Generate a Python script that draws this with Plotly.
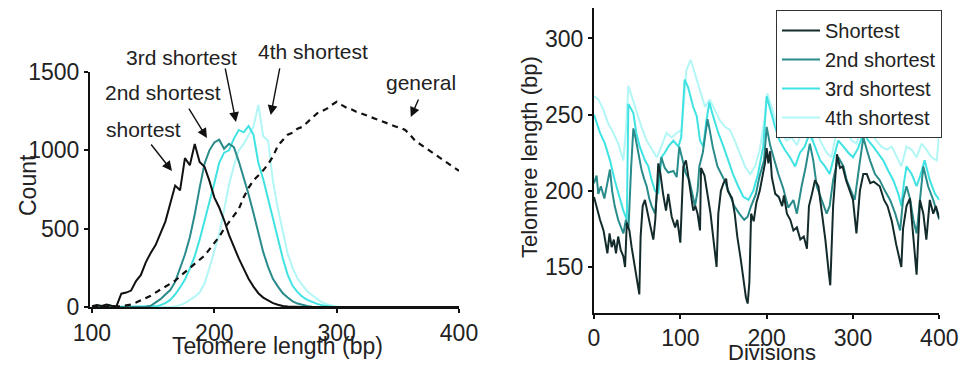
import plotly.graph_objects as go

# ---------------- Left panel: histograms ----------------
bin_length = list(range(100, 404, 4))  # bin centres (bp)

count_shortest = [5, 12, 6, 15, 8, 4, 85, 92, 105, 165,
                  205, 285, 345, 395, 470, 545, 660, 775, 745, 950,
                  905, 1040, 925, 895, 805, 700, 635, 555, 460, 380,
                  310, 245, 180, 130, 88, 60, 40, 25, 14, 6,
                  3, 1, 0, 0, 0, 0, 0, 0, 0, 0,
                  0, 0, 0, 0, 0, 0, 0, 0, 0, 0,
                  0, 0, 0, 0, 0, 0, 0, 0, 0, 0,
                  0, 0, 0, 0, 0, 0]
count_2nd = [0, 0, 0, 0, 0, 0, 0, 0, 0, 0,
             0, 2, 8, 28, 50, 80, 108, 160, 245, 335,
             445, 590, 760, 915, 1000, 1050, 1068, 1010, 1042, 1020,
             930, 830, 720, 600, 470, 350, 255, 178, 130, 88,
             60, 36, 22, 12, 6, 2, 0, 0, 0, 0,
             0, 0, 0, 0, 0, 0, 0, 0, 0, 0,
             0, 0, 0, 0, 0, 0, 0, 0, 0, 0,
             0, 0, 0, 0, 0, 0]
count_3rd = [0, 0, 0, 0, 0, 0, 0, 0, 0, 0,
             0, 0, 0, 4, 12, 25, 45, 80, 125, 175,
             245, 325, 430, 545, 670, 790, 920, 985, 1000, 1075,
             1130, 1115, 1155, 1100, 920, 815, 690, 560, 435, 310,
             205, 135, 95, 65, 45, 30, 20, 12, 6, 2,
             0, 0, 0, 0, 0, 0, 0, 0, 0, 0,
             0, 0, 0, 0, 0, 0, 0, 0, 0, 0,
             0, 0, 0, 0, 0, 0]
count_4th = [0, 0, 0, 0, 0, 0, 0, 0, 0, 0,
             0, 0, 0, 0, 0, 0, 0, 5, 12, 25,
             45, 65, 92, 150, 250, 360, 465, 620, 780, 900,
             1000, 1040, 1100, 1150, 1290, 1090, 1060, 800, 625, 480,
             340, 250, 182, 140, 100, 75, 50, 30, 18, 8,
             3, 0, 0, 0, 0, 0, 0, 0, 0, 0,
             0, 0, 0, 0, 0, 0, 0, 0, 0, 0,
             0, 0, 0, 0, 0, 0]
count_general = [0, 0, 0, 0, 0, 0, 4, 10, 15, 28,
                 42, 58, 72, 92, 110, 128, 148, 168, 196, 222,
                 248, 276, 298, 328, 368, 405, 448, 500, 540, 580,
                 625, 700, 760, 808, 840, 872, 912, 962, 1030, 1062,
                 1100, 1112, 1138, 1150, 1180, 1205, 1236, 1250, 1266, 1290,
                 1310, 1290, 1272, 1262, 1246, 1236, 1222, 1212, 1200, 1190,
                 1178, 1165, 1152, 1145, 1130, 1100, 1062, 1040, 1020, 1000,
                 975, 955, 935, 910, 890, 870]

# ---------------- Right panel: time series ----------------
div_shortest = [0, 3, 7, 11, 13, 15.5, 18, 20.5, 23, 25.5, 28, 31, 34, 36, 38, 41, 43.6, 47.5, 52.5, 54,
                56.4, 59, 62, 65.6, 68.7, 71, 74.5, 77, 80, 83.4, 86, 90, 94, 96.5, 100, 103.5, 106.5, 109.6,
                112.3, 115, 117.4, 120, 122.8, 124, 128, 131, 135, 138, 142, 144, 147, 150, 153, 155, 160, 163,
                166, 170, 173, 176, 178, 180, 182, 185, 188, 192, 196, 198, 200, 202, 204, 206, 210, 214, 218,
                220, 223.5, 227.4, 231, 235, 239, 243, 246.7, 249, 252.5, 256, 260, 264, 268, 272, 273.7, 277,
                281.5, 285, 288, 292, 297, 300, 304, 308, 312, 316, 320, 324, 331, 336, 340, 345, 350, 356, 358,
                362, 366, 370, 373.7, 377.6, 381.5, 385, 389, 393, 396, 400]
len_shortest = [196, 189, 181, 174, 168, 159, 172, 163, 168, 159, 170, 161, 157, 150, 179, 174, 163, 150, 132, 170,
                190, 194, 185, 176, 168, 181, 218, 211, 198, 187, 198, 183, 176, 181, 166, 216, 220, 209,
                198, 187, 190, 185, 174, 215, 210, 200, 185, 170, 150, 185, 200, 205, 208, 200, 195, 185,
                170, 155, 142, 130, 126, 140, 185, 180, 192, 200, 212, 218, 228, 218, 226, 209, 198, 196, 190,
                197, 185, 181, 174, 176, 168, 170, 162, 190, 198, 207, 203, 185, 168, 146, 138, 190,
                224, 215, 216, 207, 198, 194, 172, 200, 211, 211, 205, 206, 203, 194, 190, 180, 165, 150, 175,
                190, 195, 170, 145, 194, 185, 168, 194, 185, 190, 182]

div_2nd = [0, 3, 5, 8, 12, 15, 18.5, 21, 24, 28, 31, 34, 37, 40, 43, 45.6, 48, 51, 55, 58, 61, 64, 66.8, 70.7,
           74.5, 78, 82, 86, 92, 95.8, 98.8, 102.7, 106, 110.4, 114, 117, 120, 122, 126, 129, 131.5, 134, 137.5,
           143, 147, 151, 157, 162.5, 168.3, 174, 178, 182, 187.6, 191.5, 197, 200, 204, 207.7, 213.5, 219, 225,
           231, 235, 240.5, 245, 250, 254, 258, 263.7, 269.5, 273, 277, 283, 289, 292.7, 298.5, 302, 307, 312,
           316, 319.7, 325.5, 331, 337, 343, 349, 354.6, 358, 362, 366, 370, 373.7, 377.6, 381.5, 387, 393, 400]
len_2nd = [205, 210, 198, 203, 195, 205, 214, 200, 190, 181, 176, 172, 181, 176, 215, 241, 235, 225, 214, 208,
           203, 195, 190, 185, 207, 222, 215, 212, 213, 209, 229, 220, 212, 207, 198, 190, 200, 216, 225, 238,
           247, 240, 229, 216, 211, 207, 198, 190, 185, 181, 183, 190, 198, 209, 220, 242, 230, 222, 211, 202,
           189, 194, 185, 203, 215, 231, 220, 203, 194, 185, 190, 207, 222, 216, 207, 198, 194, 215, 235, 227,
           220, 211, 207, 200, 194, 185, 174, 194, 203, 195, 181, 172, 194, 216, 203, 194, 181]

div_3rd = [0, 3, 7, 12.7, 18.5, 24, 30, 34, 38, 39.8, 45.6, 49, 53, 59, 63, 66.8, 70.7, 74.5, 78, 82, 86, 92,
           97.7, 101, 105, 109, 115, 119, 122.8, 126.6, 130, 133.6, 138, 144, 150, 155.6, 161, 167, 173, 179,
           184.5, 190, 196, 200, 204, 209.7, 215, 221, 227, 233, 238.6, 244, 250, 256, 262, 267.6, 273, 277, 283,
           289, 294.6, 300, 306, 312, 317.8, 323.5, 329, 335, 341, 346.7, 352.5, 356, 359, 362, 368, 373.7, 378,
           383, 389, 395, 400]
len_3rd = [250, 245, 238, 231, 220, 207, 194, 187, 181, 257, 251, 238, 229, 220, 216, 207, 200, 198, 222, 225,
           229, 233, 229, 235, 273, 268, 255, 249, 233, 229, 245, 258, 249, 238, 229, 220, 211, 203, 196, 194,
           200, 211, 229, 262, 253, 242, 233, 227, 222, 216, 225, 229, 238, 229, 220, 216, 211, 220, 233, 229,
           225, 222, 228, 238, 233, 229, 225, 220, 213, 207, 198, 190, 205, 216, 211, 203, 210, 220, 207, 198,
           194]

div_4th = [0, 5, 11, 16.6, 22.4, 28, 34, 37, 39.8, 43.6, 49.4, 55, 61, 66.8, 72.6, 78, 84, 90, 95.8, 101.5,
           107, 112, 116.6, 122.8, 128.6, 134, 140, 146, 151.7, 157.5, 163, 169, 175, 181, 186.5, 192, 198,
           200.8, 205.8, 211.6, 217.4, 223, 229, 235, 240.5, 246, 252, 258, 263.7, 269.5, 275, 281, 287, 292.7,
           298.5, 304, 310, 316, 321.6, 327, 333, 339, 345, 350.7, 356, 362, 368, 373.7, 379.5, 385, 391, 397,
           400]
len_4th = [262, 260, 253, 244, 238, 231, 220, 240, 269, 262, 253, 242, 233, 227, 222, 229, 238, 235, 238, 240,
           279, 286, 277, 266, 255, 260, 253, 246, 242, 240, 233, 225, 216, 211, 216, 227, 249,
           264, 255, 244, 238, 233, 235, 230, 238, 242, 233, 238, 231, 225, 222, 238, 244, 238,
           233, 231, 242, 244, 238, 233, 229, 227, 229, 222, 216, 229, 227, 222, 231, 227, 222, 220,
           238]

FONT = "Liberation Sans, Arial, Helvetica, sans-serif"
TXT = "#222222"
C1L = "#111111"
C1 = "#132b2b"
C2 = "#2a8b8b"
C3 = "#40e2e2"
C4 = "#b2f6f6"

fig = go.Figure()

# left panel
for ys, col in [(count_4th, C4), (count_3rd, C3), (count_2nd, C2), (count_shortest, C1L)]:
    fig.add_trace(go.Scatter(x=bin_length, y=ys, mode="lines", line=dict(color=col, width=2),
                             showlegend=False, xaxis="x", yaxis="y", hoverinfo="skip"))
fig.add_trace(go.Scatter(x=bin_length, y=count_general, mode="lines",
                         line=dict(color="#111111", width=2.2, dash="6px,5px"),
                         showlegend=False, xaxis="x", yaxis="y", hoverinfo="skip"))

# right panel
series = [("4th shortest", div_4th, len_4th, C4, 4),
          ("3rd shortest", div_3rd, len_3rd, C3, 3),
          ("2nd shortest", div_2nd, len_2nd, C2, 2),
          ("Shortest", div_shortest, len_shortest, C1, 1)]
for name, xs, ys, col, rank in series:
    fig.add_trace(go.Scatter(x=xs, y=ys, mode="lines", name=name, legendrank=rank,
                             line=dict(color=col, width=2), xaxis="x2", yaxis="y2",
                             hoverinfo="skip"))

W, H = 963, 366
axis_common = dict(showline=True, linecolor="#111111", linewidth=2, showgrid=False, zeroline=False,
                   automargin=False,
                   ticks="outside", ticklen=4, tickwidth=1.5, tickcolor="#111111",
                   tickfont=dict(family=FONT, size=23, color=TXT))

fig.update_layout(
    template="none",
    width=W, height=H, margin=dict(l=0, r=0, t=0, b=0, autoexpand=False),
    paper_bgcolor="white", plot_bgcolor="white",
    xaxis=dict(domain=[90 / W, 459 / W], range=[98.4, 400], tickvals=[100, 200, 300, 400],
               anchor="y", **axis_common),
    yaxis=dict(domain=[1 - 307 / H, 1 - 72 / H], range=[0, 1500], tickvals=[0, 500, 1000, 1500],
               anchor="x", **axis_common),
    xaxis2=dict(domain=[594 / W, 939.3 / W], range=[0, 400], tickvals=[0, 100, 200, 300, 400],
                anchor="y2", **axis_common),
    yaxis2=dict(domain=[1 - 312.7 / H, 1 - 8 / H], range=[120, 320], tickvals=[150, 200, 250, 300],
                anchor="x2", **axis_common),
    legend=dict(x=776 / W, y=1 - 10 / H, xanchor="left", yanchor="top", bgcolor="white",
                bordercolor="#333333", borderwidth=1, font=dict(family=FONT, size=20, color=TXT),
                tracegroupgap=0, itemwidth=38),
    showlegend=True,
)

ann = []


def ptext(t, px, py, size, angle=0):
    return dict(text=t, x=px / W, y=1 - py / H, xref="paper", yref="paper", showarrow=False,
                xanchor="center", yanchor="middle", textangle=angle,
                font=dict(family=FONT, size=size, color=TXT))


# axis titles
ann.append(ptext("Count", 28, 185, 23, -90))
ann.append(ptext("Telomere length (bp)", 277, 346, 23))
ann.append(ptext("Telomere length (bp)", 530, 157, 22, -90))
ann.append(ptext("Divisions", 772, 352, 22))

# label texts (pixel centres) and arrows (data coords) in left panel
labels = [("shortest", 143.5, 129), ("2nd shortest", 162.5, 92), ("3rd shortest", 181, 57),
          ("4th shortest", 313, 52), ("general", 421, 82)]
arrows = [(147.4, 1047, 165.4, 868), (178.5, 1276, 194.0, 1078), (208.7, 1532, 217.7, 1181),
          (253.7, 1532, 246.1, 1225), (367.4, 1334, 360.6, 1213)]
for t, px, py in labels:
    ann.append(ptext(t, px, py, 21))
for ax0, ay0, hx, hy in arrows:
    ann.append(dict(text="", x=hx, y=hy, ax=ax0, ay=ay0, xref="x", yref="y", axref="x", ayref="y",
                    showarrow=True, arrowhead=2, arrowsize=1.4, arrowwidth=1.4, arrowcolor="#111111"))
fig.update_layout(annotations=ann)

fig.write_html("out.html", config={"displayModeBar": False},
               post_script="document.body.style.margin='0';")
